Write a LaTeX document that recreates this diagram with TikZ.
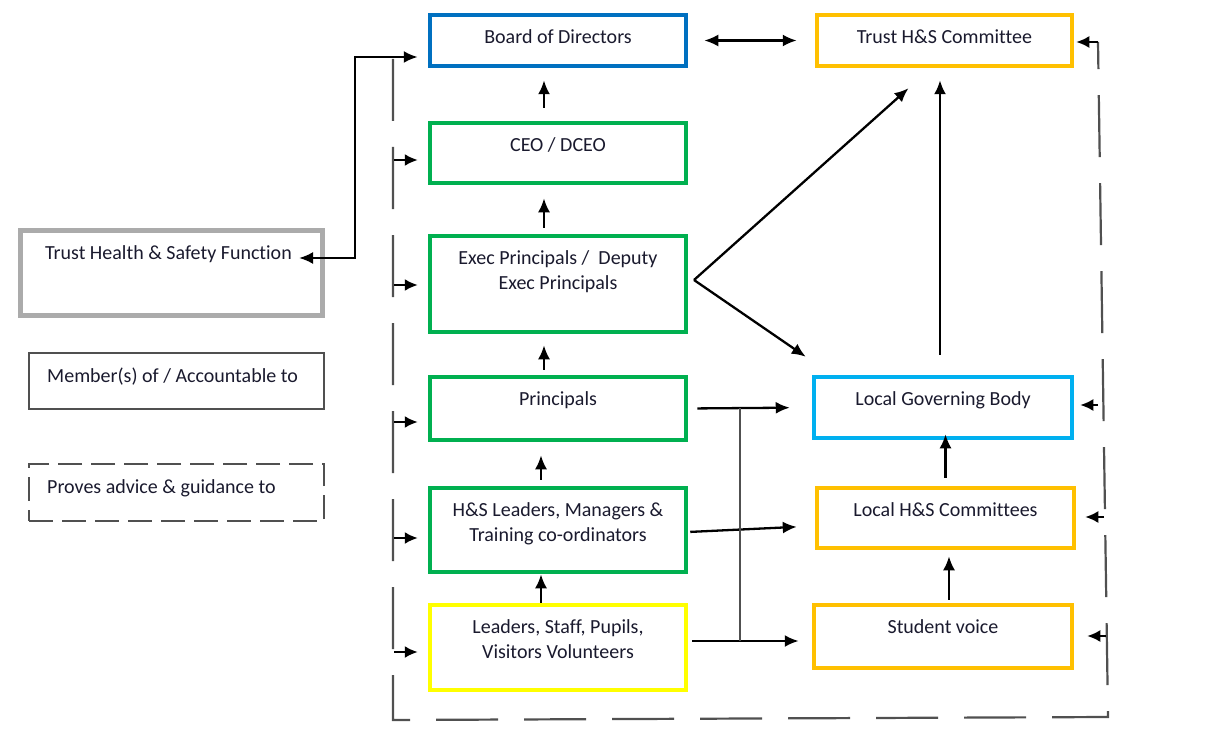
\documentclass[tikz,border=0pt]{standalone}
\usepackage{fontspec}
\setmainfont{Carlito}[Ligatures=NoCommon]
\usetikzlibrary{arrows.meta}
\definecolor{cblue}{HTML}{0070C0}
\definecolor{cgreen}{HTML}{00B050}
\definecolor{cyellow}{HTML}{FFFF00}
\definecolor{corange}{HTML}{FFC000}
\definecolor{clblue}{HTML}{00B0F0}
\definecolor{cgrayl}{HTML}{ABABAB}
\definecolor{cgrayd}{HTML}{505050}
\definecolor{ctext}{HTML}{1A1A2E}
\tikzset{
  box/.style={draw=#1, line width=4.5pt, rectangle, inner sep=0pt, fill=white},
  txt/.style={font=\fontsize{20}{24.5}\selectfont, text=ctext, align=center, inner sep=0pt},
  arr/.style={line width=2.3pt, black, -{Latex[length=14pt,width=12pt]}},
  darr/.style={line width=2.3pt, black, {Latex[length=14pt,width=12pt]}-{Latex[length=14pt,width=12pt]}},
  sarr/.style={line width=2.1pt, black, -{Latex[length=13pt,width=12pt]}},
  border/.style={line width=2.2pt, cgrayd, dash pattern={on 62pt off 26pt}},
  junction/.style={line width=1.6pt, cgrayd},
}
\begin{document}
\begin{tikzpicture}[x=1pt,y=-1pt]
\useasboundingbox (0,0) rectangle (1206,738);

% ---------- boxes ----------
\node[box=cblue,   minimum width=256pt, minimum height=51pt] (bod)  at (558,40.5) {};
\node[box=cgreen,  minimum width=256pt, minimum height=60pt] (ceo)  at (558,153) {};
\node[box=cgreen,  minimum width=256pt, minimum height=96pt] (exec) at (558,284) {};
\node[box=cgreen,  minimum width=256pt, minimum height=63pt] (prin) at (558,408.5) {};
\node[box=cgreen,  minimum width=256pt, minimum height=84pt] (hsl)  at (558,530) {};
\node[box=cyellow, minimum width=256pt, minimum height=85pt] (lsp)  at (558,647.5) {};
\node[box=corange, minimum width=255pt, minimum height=51pt] (thsc) at (944.5,40.5) {};
\node[box=clblue,  minimum width=258pt, minimum height=61pt] (lgb)  at (943,407.5) {};
\node[box=corange, minimum width=257pt, minimum height=60pt] (lhs)  at (945.5,518) {};
\node[box=corange, minimum width=258pt, minimum height=63pt] (sv)   at (943,636.5) {};
\node[draw=cgrayl, line width=5pt, minimum width=302pt, minimum height=85pt, inner sep=0pt] (thsf) at (171.5,273) {};
\node[draw=cgrayd, line width=2.4pt, minimum width=295pt, minimum height=56pt, inner sep=0pt] (mem) at (176.5,381) {};
\node[draw=cgrayd, line width=2.4pt, dash pattern={on 24pt off 9pt}, minimum width=295pt, minimum height=57pt, inner sep=0pt] (prov) at (176.5,492.5) {};

% ---------- texts ----------
\node[txt, anchor=base, yshift=-31pt] (bodt)  at (bod.north)  {Board of Directors};
\node[txt, anchor=base, yshift=-31pt] (ceot)  at (ceo.north)  {CEO / DCEO};
\node[txt, anchor=base, yshift=-55.5pt] (exect) at (exec.north) {Exec Principals /~ Deputy\\Exec Principals};
\node[txt, anchor=base, yshift=-31pt] (print) at (prin.north) {Principals};
\node[txt, anchor=base, yshift=-55.5pt] (hslt)  at (hsl.north)  {H\&S Leaders, Managers \&\\Training co-ordinators};
\node[txt, anchor=base, yshift=-55.5pt] (lspt)  at (lsp.north)  {Leaders, Staff, Pupils,\\Visitors Volunteers};
\node[txt, anchor=base, yshift=-31pt] (thsct) at (thsc.north) {Trust H\&S Committee};
\node[txt, anchor=base, yshift=-31pt] (lgbt)  at (lgb.north)  {Local Governing Body};
\node[txt, anchor=base, yshift=-31pt] (lhst)  at (lhs.north)  {Local H\&S Committees};
\node[txt, anchor=base, yshift=-31pt] (svt)   at (sv.north)   {Student voice};
\node[txt, anchor=base west] (thsft) at (45,259) {Trust Health \& Safety Function};
\node[txt, anchor=base west] (memt)  at (47,382) {Member(s) of / Accountable to};
\node[txt, anchor=base west] (provt) at (47,493) {Proves advice \& guidance to};

% ---------- vertical chain (left column) ----------
\draw[arr, shorten <=13pt, shorten >=12pt] ([xshift=-14pt]ceo.north)  -- ([xshift=-14pt]bod.south);
\draw[arr, shorten <=6pt,  shorten >=13pt] ([xshift=-14pt]exec.north) -- ([xshift=-14pt]ceo.south);
\draw[arr, shorten <=5pt,  shorten >=11pt] ([xshift=-14pt]prin.north) -- ([xshift=-14pt]exec.south);
\draw[arr, shorten <=6pt,  shorten >=13pt] ([xshift=-17pt]hsl.north)  -- ([xshift=-17pt]prin.south);
\draw[arr, shorten >=0pt] ([xshift=-17pt]lsp.north) -- ([xshift=-17pt]hsl.south);

% ---------- right column ----------
\draw[arr, shorten <=20pt, shorten >=12pt] ([xshift=-3pt]lgb.north) -- ([xshift=-4.5pt]thsc.south);
\draw[arr, shorten <=8pt, shorten >=-6pt] (lhs.north) -- ([xshift=2.5pt]lgb.south);
\draw[arr, shorten <=3pt, shorten >=6pt] ([xshift=6pt]sv.north) -- ([xshift=3.5pt]lhs.south);

% ---------- top link ----------
\draw[darr, shorten <=16pt, shorten >=18pt] (bod) -- (thsc);

% ---------- from Exec Principals ----------
\coordinate (exv) at (694,280);
\draw[arr] (exv) -- ([xshift=-36pt,yshift=-20pt]thsc.south);
\draw[arr] (exv) -- ([xshift=-6pt,yshift=18pt]lgb.north west);

% ---------- horizontal links to right column ----------
\draw[arr, shorten <=9pt, shorten >=22pt] (prin.east) -- (lgb.west);
\draw[arr, shorten <=2pt, shorten >=18pt] ([yshift=-2pt]hsl.east) -- ([yshift=-8pt]lhs.west);
\draw[arr, shorten <=4pt, shorten >=13pt] ([yshift=6.5pt]lsp.east) -- ([yshift=-4.5pt]sv.west);
\coordinate (j1) at (740,408);
\coordinate (j2) at (740,641);
\draw[junction] (j1) -- (j2);

% ---------- Trust H&S Function link ----------
\coordinate (ft)  at (299,258);
\coordinate (fv1) at (355,258);
\draw[darr, shorten >=10pt] (ft) -- (fv1) |- ([yshift=-16.5pt]bod.west);

% ---------- dashed accountability border ----------
\coordinate (Ltop) at (393,59);
\coordinate (Lbot) at (393,720);
\coordinate (Rbot) at (1108,717);
\coordinate (Rtop) at (1098,42);
\draw[border] (Ltop) -- (Lbot) -- (Rbot) -- (Rtop);
\draw[sarr, shorten >=2pt] (Rtop) -- (Rtop -| thsc.east);

\coordinate (Lceo)  at (393,160);
\coordinate (Lexec) at (393,285);
\coordinate (Lprin) at (393,422);
\coordinate (Lhsl)  at (393,538);
\coordinate (Llsp)  at (393,652);
\foreach \c/\n in {Lceo/ceo, Lexec/exec, Lprin/prin, Lhsl/hsl, Llsp/lsp}
  \draw[sarr, shorten <=1pt, shorten >=10pt] (\c) -- (\c -| \n.west);

\coordinate (Rlgb) at (1098,405);
\coordinate (Rlhs) at (1104,517);
\coordinate (Rsv)  at (1106,636);
\draw[sarr, shorten >=6pt]  (Rlgb) -- (Rlgb -| lgb.east);
\draw[sarr, shorten >=9pt]  (Rlhs) -- (Rlhs -| lhs.east);
\draw[sarr, shorten >=13pt] (Rsv)  -- (Rsv -| sv.east);
\end{tikzpicture}
\end{document}
